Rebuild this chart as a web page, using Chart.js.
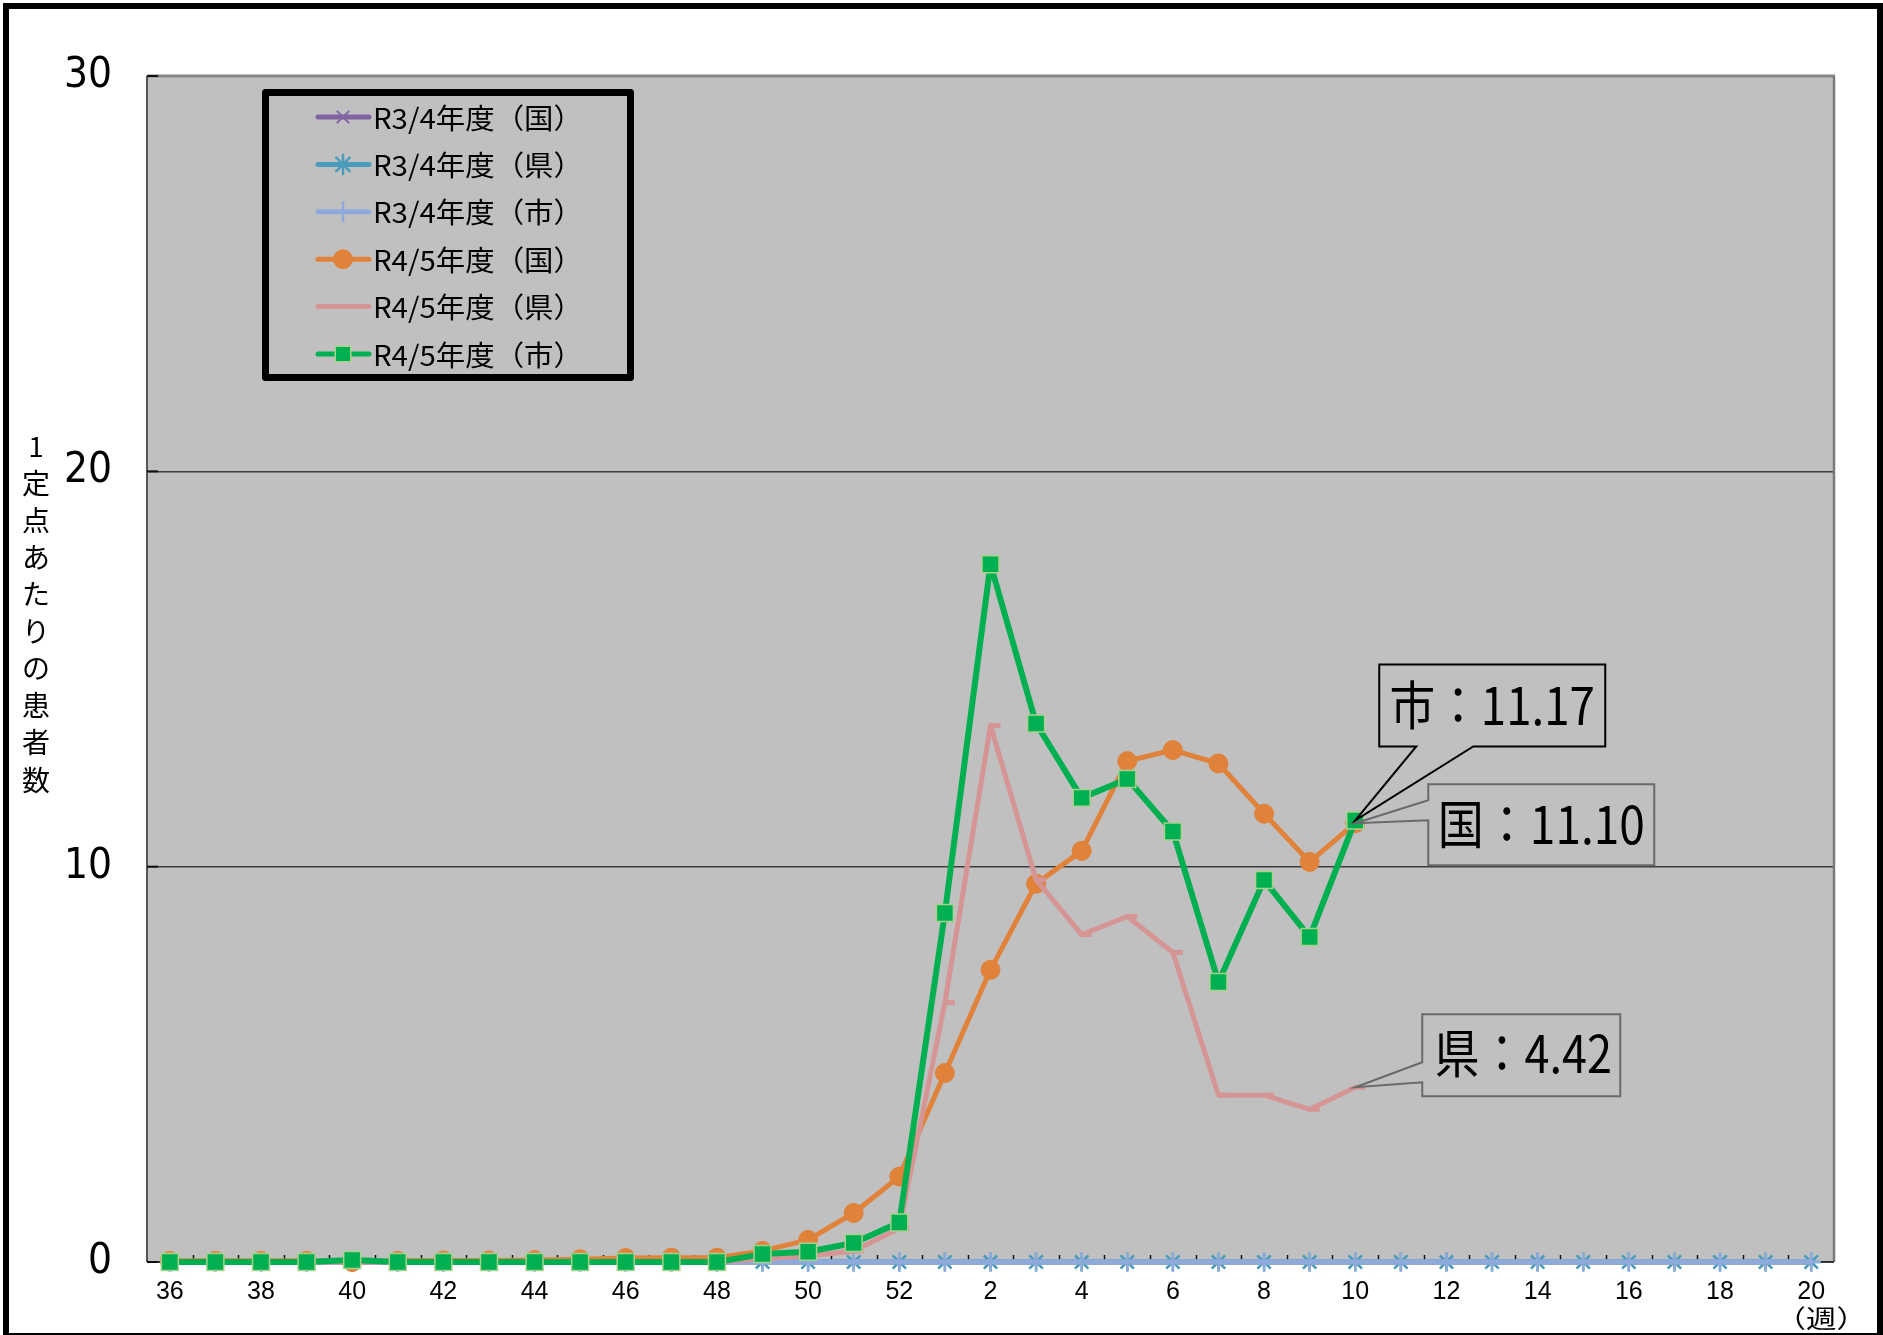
<!DOCTYPE html>
<html>
<head>
<meta charset="utf-8">
<script src="https://cdn.jsdelivr.net/npm/chart.js@4.4.0/dist/chart.umd.min.js"></script>
<style>
html,body{margin:0;padding:0;background:#fff;}
#wrap{width:1883px;height:1335px;position:relative;}
canvas{display:block;}
</style>
</head>
<body>
<div id="wrap"><canvas id="c" width="1883" height="1335"></canvas></div>
<script>
// ---------- data ----------
const weeks = [36,37,38,39,40,41,42,43,44,45,46,47,48,49,50,51,52,1,2,3,4,5,6,7,8,9,10,11,12,13,14,15,16,17,18,19,20];
const tickWeeks = [36,38,40,42,44,46,48,50,52,2,4,6,8,10,12,14,16,18,20];
const yTicks = [0,10,20,30];
const seriesLabels = ['R3/4年度（国）','R3/4年度（県）','R3/4年度（市）','R4/5年度（国）','R4/5年度（県）','R4/5年度（市）'];

const r34Kuni = [0,0,0,0,0,0,0,0,0,0,0,0,0,0,0,0,0,0,0,0,0,0,0,0,0,0,0,0,0,0,0,0,0,0,0,0,0];
const r34Ken  = [0,0,0,0,0,0,0,0,0,0,0,0,0,0,0,0,0,0,0,0,0,0,0,0,0,0,0,0,0,0,0,0,0,0,0,0,0];
const r34Shi  = [0,0,0,0,0,0,0,0,0,0,0,0,0,0,0,0,0,0,0,0,0,0,0,0,0,0,0,0,0,0,0,0,0,0,0,0,0];
const r45Kuni = [0.03,0.03,0.03,0.03,0,0.03,0.04,0.04,0.05,0.07,0.10,0.11,0.11,0.28,0.56,1.24,2.16,4.78,7.39,9.57,10.40,12.67,12.95,12.61,11.34,10.12,11.10];
const r45Ken  = [0,0,0,0,0,0,0,0,0,0,0,0,0,0.08,0.15,0.28,0.85,6.56,13.57,9.67,8.28,8.74,7.83,4.22,4.22,3.86,4.42];
const r45Shi  = [0,0,0,0,0.05,0,0,0,0,0,0,0,0,0.20,0.26,0.48,1.00,8.83,17.65,13.62,11.74,12.22,10.89,7.08,9.66,8.22,11.17];

const yTitle = '1定点あたりの患者数';
const xUnit = '（週）';

// ---------- helpers ----------
function fitText(ctx, text, inkLeft, inkRight, y) {
  ctx.textAlign = 'left';
  const m = ctx.measureText(text);
  const inkW = m.actualBoundingBoxRight + m.actualBoundingBoxLeft;
  const s = (inkRight - inkLeft) / inkW;
  ctx.save();
  ctx.translate(inkLeft + m.actualBoundingBoxLeft * s, y);
  ctx.scale(s, 1);
  ctx.fillText(text, 0, 0);
  ctx.restore();
}

const framePlugin = {
  id: 'frame',
  beforeDraw(chart) {
    const {ctx, chartArea: a} = chart;
    ctx.save();
    ctx.fillStyle = '#fff';
    ctx.fillRect(0, 0, chart.width, chart.height);
    ctx.fillStyle = '#C0C0C0';
    ctx.fillRect(a.left, a.top, a.right - a.left, a.bottom - a.top);
    ctx.fillStyle = '#000';
    ctx.fillRect(3, 3, 6, 1332);
    ctx.fillRect(3, 3, 1880, 6);
    ctx.fillRect(1877, 3, 6, 1332);
    ctx.fillRect(3, 1333, 1880, 2);
    ctx.restore();
  },
  beforeDatasetsDraw(chart) {
    const {ctx, chartArea: a, scales: {x, y}} = chart;
    ctx.save();
    ctx.lineCap = 'butt';
    ctx.strokeStyle = '#858585'; ctx.lineWidth = 3;
    ctx.beginPath(); ctx.moveTo(a.left, a.top); ctx.lineTo(a.right + 1, a.top); ctx.stroke();
    ctx.strokeStyle = '#7a7a7a'; ctx.lineWidth = 2.5;
    ctx.beginPath(); ctx.moveTo(a.right, a.top); ctx.lineTo(a.right, a.bottom); ctx.stroke();
    ctx.strokeStyle = '#555'; ctx.lineWidth = 2;
    ctx.beginPath(); ctx.moveTo(a.left, a.top); ctx.lineTo(a.left, a.bottom); ctx.stroke();
    ctx.strokeStyle = '#222'; ctx.lineWidth = 1.5;
    ctx.beginPath(); ctx.moveTo(a.left, a.bottom); ctx.lineTo(a.right, a.bottom); ctx.stroke();
    // inward tick marks
    ctx.strokeStyle = '#111'; ctx.lineWidth = 1.5;
    for (let i = 1; i < weeks.length; i++) {
      const px = Math.round((x.getPixelForValue(i - 1) + x.getPixelForValue(i)) / 2) + 0.5;
      ctx.beginPath(); ctx.moveTo(px, a.bottom); ctx.lineTo(px, a.bottom - 7); ctx.stroke();
    }
    ctx.lineWidth = 2;
    yTicks.forEach(v => {
      const py = y.getPixelForValue(v);
      ctx.beginPath(); ctx.moveTo(a.left, py); ctx.lineTo(a.left + 11, py); ctx.stroke();
    });
    ctx.restore();
  }
};

function drawMarker(ctx, ds, cx, cy) {
  ctx.save();
  ctx.fillStyle = ds.pointBackgroundColor;
  ctx.strokeStyle = ds.pointBorderColor;
  ctx.lineWidth = ds.pointBorderWidth;
  Chart.helpers.drawPoint(ctx, {pointStyle: ds.pointStyle, radius: ds.pointRadius, borderWidth: ds.pointBorderWidth, rotation: 0}, cx, cy);
  ctx.restore();
}

const legendPlugin = {
  id: 'boxLegend',
  afterDraw(chart) {
    const ctx = chart.ctx;
    ctx.save();
    ctx.strokeStyle = '#000'; ctx.lineWidth = 7; ctx.lineJoin = 'round';
    ctx.strokeRect(265.5, 92.5, 365, 285);
    chart.data.datasets.forEach((ds, i) => {
      const cy = 117 + i * 47.4;
      ctx.strokeStyle = ds.borderColor; ctx.lineWidth = 5; ctx.lineCap = 'round';
      ctx.beginPath(); ctx.moveTo(318, cy); ctx.lineTo(369, cy); ctx.stroke();
      const lds = Object.assign({}, ds, {pointRadius: ds.pointStyle === 'rect' ? 11 : ds.pointRadius});
      drawMarker(ctx, lds, 343, cy);
      ctx.fillStyle = '#000';
      ctx.font = '28px "Noto Sans CJK JP", sans-serif';
      ctx.textBaseline = 'middle';
      fitText(ctx, ds.label, 375, 563, cy + 1);
    });
    ctx.restore();
  }
};

const textPlugin = {
  id: 'texts',
  afterDraw(chart) {
    const {ctx, scales: {x}} = chart;
    ctx.save();
    ctx.fillStyle = '#000';
    // y-axis title, stacked vertically
    ctx.font = '28px "Noto Sans CJK JP", sans-serif';
    ctx.textAlign = 'center'; ctx.textBaseline = 'middle';
    Array.from(yTitle).forEach((ch, i) => {
      ctx.fillText(ch, 36, 446 + i * 37.1);
    });
    // unit under last x label
    ctx.font = '25px "Noto Sans CJK JP", sans-serif';
    ctx.textBaseline = 'middle';
    const lastX = x.getPixelForValue(weeks.length - 1);
    fitText(ctx, xUnit, lastX - 15, lastX + 35, 1318);
    ctx.restore();
  }
};

function callout(ctx, o) {
  ctx.save();
  ctx.fillStyle = '#C0C0C0';
  ctx.strokeStyle = o.stroke;
  ctx.lineWidth = o.lw;
  ctx.lineJoin = 'miter';
  ctx.beginPath();
  for (let i = 0; i < o.path.length; i++) {
    const [px, py] = o.path[i];
    if (i === 0) ctx.moveTo(px, py); else ctx.lineTo(px, py);
  }
  ctx.closePath();
  ctx.fill();
  ctx.stroke();
  ctx.fillStyle = '#000';
  ctx.font = '52px "Noto Sans CJK JP", sans-serif';
  ctx.textBaseline = 'alphabetic';
  fitText(ctx, o.text, o.tx0, o.tx1, o.ty);
  ctx.restore();
}

const annotationPlugin = {
  id: 'callouts',
  afterDatasetsDraw(chart) {
    const ctx = chart.ctx;
    const idx = r45Shi.length - 1;
    // 市
    let p = chart.getDatasetMeta(5).data[idx];
    let px = p.x, py = p.y;
    callout(ctx, {
      stroke: '#000', lw: 2,
      path: [[px + 24, py - 156], [px + 250, py - 156], [px + 250, py - 74], [px + 118, py - 74], [px, py], [px + 61, py - 74], [px + 24, py - 74]],
      text: '市：' + r45Shi[idx].toFixed(2), tx0: px + 36, tx1: px + 238, ty: py - 95
    });
    // 国
    p = chart.getDatasetMeta(3).data[idx];
    px = p.x; py = p.y;
    callout(ctx, {
      stroke: '#6a6a6a', lw: 2,
      path: [[px + 73, py - 39], [px + 299, py - 39], [px + 299, py + 42], [px + 73, py + 42], [px + 73, py - 3], [px, py], [px + 73, py - 23]],
      text: '国：' + r45Kuni[idx].toFixed(2), tx0: px + 86, tx1: px + 288, ty: py + 21
    });
    // 県
    p = chart.getDatasetMeta(4).data[idx];
    px = p.x; py = p.y;
    callout(ctx, {
      stroke: '#6a6a6a', lw: 2,
      path: [[px + 67, py - 73], [px + 265, py - 73], [px + 265, py + 9], [px + 67, py + 9], [px + 67, py - 5], [px, py], [px + 67, py - 25]],
      text: '県：' + r45Ken[idx].toFixed(2), tx0: px + 81, tx1: px + 255, ty: py - 14
    });
  }
};

const colors = {
  purple: '#7F62A0', teal: '#4A9CBB', lblue: '#8EAADB',
  orange: '#E0823A', pink: '#D69595', green: '#00B050', greenEdge: '#A9D18E'
};

const datasets = [
  {label: seriesLabels[0], data: r34Kuni, borderColor: colors.purple, borderWidth: 5,
   pointStyle: 'crossRot', pointRadius: 8, pointBorderWidth: 2, pointBackgroundColor: colors.purple, pointBorderColor: colors.purple, order: 5},
  {label: seriesLabels[1], data: r34Ken, borderColor: colors.teal, borderWidth: 5,
   pointStyle: 'star', pointRadius: 9.5, pointBorderWidth: 2.5, pointBackgroundColor: colors.teal, pointBorderColor: colors.teal, order: 4},
  {label: seriesLabels[2], data: r34Shi, borderColor: colors.lblue, borderWidth: 5.5,
   pointStyle: 'cross', pointRadius: 9.5, pointBorderWidth: 2.5, pointBackgroundColor: colors.lblue, pointBorderColor: colors.lblue, order: 3},
  {label: seriesLabels[3], data: r45Kuni, borderColor: colors.orange, borderWidth: 5,
   pointStyle: 'circle', pointRadius: 9.5, pointBorderWidth: 1, pointBackgroundColor: colors.orange, pointBorderColor: colors.orange, order: 2},
  {label: seriesLabels[4], data: r45Ken, borderColor: colors.pink, borderWidth: 5,
   pointStyle: 'dash', pointRadius: 10, pointBorderWidth: 5, pointBackgroundColor: colors.pink, pointBorderColor: colors.pink, order: 1},
  {label: seriesLabels[5], data: r45Shi, borderColor: colors.green, borderWidth: 6,
   pointStyle: 'rect', pointRadius: 12, pointBorderWidth: 1.5, pointBackgroundColor: colors.green, pointBorderColor: colors.greenEdge, order: 0}
].map(d => Object.assign({tension: 0, fill: false, clip: false, spanGaps: false, borderCapStyle: 'round', borderJoinStyle: 'round'}, d));

new Chart(document.getElementById('c'), {
  type: 'line',
  data: {labels: weeks.map(String), datasets},
  options: {
    responsive: false,
    animation: false,
    devicePixelRatio: 1,
    layout: {padding: {top: 76, right: 49, bottom: 0, left: 0}},
    plugins: {legend: {display: false}, tooltip: {enabled: false}},
    scales: {
      x: {
        type: 'category',
        offset: true,
        grid: {display: false, drawTicks: false},
        border: {display: false},
        ticks: {
          autoSkip: false, maxRotation: 0, minRotation: 0, padding: 15,
          color: '#000',
          font: {family: '"Liberation Sans", Arial, sans-serif', size: 25},
          callback: (v, i) => tickWeeks.includes(weeks[i]) ? String(weeks[i]) : ''
        },
        afterFit(s) { s.height = 73; }
      },
      y: {
        min: 0, max: 30,
        afterBuildTicks(s) { s.ticks = yTicks.map(v => ({value: v})); },
        grid: {color: '#3c3c3c', lineWidth: 1.5, drawTicks: false},
        border: {display: false},
        ticks: {
          padding: 35, color: '#000',
          font: {family: '"Liberation Sans Narrow", "DejaVu Sans Condensed", "Liberation Sans", sans-serif', size: 42}
        },
        afterFit(s) { s.width = 147; }
      }
    }
  },
  plugins: [framePlugin, annotationPlugin, legendPlugin, textPlugin]
});
</script>
</body>
</html>
